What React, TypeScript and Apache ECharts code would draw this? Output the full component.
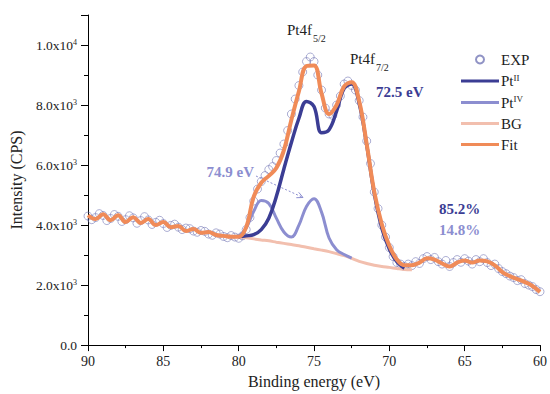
import React, { useEffect, useRef } from "react";
import * as echarts from "echarts";

// Binding energy grids (eV): start value and step (descending)
const EXP_START = 90;
const EXP_STEP = 0.25;
const FIT_START = 90;
const FIT_STEP = 0.5;
const PEAK_START = 80;
const PEAK_STEP = 0.5;

// Experimental intensities (CPS), 90 -> 60 eV every 0.25 eV
const expValues = [
  4300, 4180, 4250, 4380, 4320, 4150, 4220, 4350, 4290, 4120,
  4180, 4310, 4240, 4060, 4150, 4280, 4170, 4020, 4090, 4160,
  4050, 3920, 3990, 4030, 3930, 3850, 3900, 3880, 3800, 3760,
  3820, 3790, 3700, 3660, 3740, 3700, 3620, 3580, 3650, 3600,
  3560, 3640, 3850, 4250, 4800, 5200, 5450, 5650, 5850, 5950,
  6150, 6400, 6700, 7150, 7700, 8200, 8650, 9100, 9450, 9600,
  9450, 9000, 8500, 7900, 7700, 7650, 8000, 8300, 8700, 8800,
  8650, 8500, 8150, 7600, 6800, 6050, 5100, 4550, 4000, 3600,
  3250, 2950, 2750, 2700, 2620, 2700, 2650, 2780, 2720, 2880,
  2950, 2850, 2920, 2780, 2700, 2820, 2620, 2750, 2850, 2760,
  2880, 2800, 2700, 2850, 2780, 2880, 2750, 2650, 2700, 2550,
  2450, 2380, 2300, 2250, 2150, 2180, 2050, 2000, 1950, 1850,
  1780,
];

// Fit envelope, 90 -> 60 eV every 0.5 eV
const fitValues = [
  4330, 4200, 4360, 4160, 4330, 4100, 4260, 4070, 4200, 4000,
  4100, 3930, 3970, 3800, 3870, 3740, 3770, 3670, 3640, 3610,
  3610, 3930, 4950, 5410, 5640, 5900, 6490, 7510, 8460, 9300,
  9320, 8390, 7700, 8000, 8620, 8760, 8130, 6690, 5110, 4030,
  3310, 2850, 2660, 2660, 2750, 2890, 2850, 2720, 2620, 2750,
  2820, 2750, 2820, 2790, 2660, 2430, 2300, 2200, 2100, 1970,
  1770,
];

// Pt(II) component, 80 -> 69 eV every 0.5 eV
const ptIIValues = [
  3610, 3640, 3680, 3850, 4230, 4950, 5870, 6750, 7560, 8120,
  7950, 7080, 7180, 7800, 8550, 8700, 8050, 6660, 5050, 3900,
  3200, 2780, 2560,
];

// Pt(IV) component, 80 -> 72.5 eV every 0.5 eV
const ptIVValues = [
  3610, 3900, 4460, 4820, 4720, 4230, 3770, 3600, 4000, 4620,
  4880, 4430, 3570, 3180, 3020, 2900,
];

// Background, 80 -> 68.5 eV every 0.5 eV
const bgValues = [
  3610, 3575, 3540, 3505, 3475, 3430, 3390, 3350, 3310, 3260,
  3210, 3165, 3115, 3050, 2980, 2890, 2790, 2720, 2660, 2620,
  2590, 2555, 2520, 2510,
];

const legendNames = ["EXP", "PtII", "PtIV", "BG", "Fit"];

const SERIF = "Liberation Serif";
const C_FIT = "#f08b58";
const C_II = "#3b3d94";
const C_IV = "#8c8ed0";
const C_BG = "#f2bfae";
const C_EXP = "#7478b6";
const LINE_ICON = "path://M0 0H38V3H0Z";

// design size of the reference
const W = 550;
const H = 394;

function toPairs(start: number, step: number, values: number[]) {
  return values.map((v, i) => [Math.round((start - i * step) * 100) / 100, v]);
}

export default function App() {
  const ref = useRef<HTMLDivElement>(null);

  useEffect(() => {
    if (!ref.current) return;
    const chart = echarts.init(ref.current, undefined, { renderer: "svg" });
    const sx = chart.getWidth() / W;
    const sy = chart.getHeight() / H;
    const X = (v: number) => v * sx;
    const Y = (v: number) => v * sy;
    const F = (v: number) => v * sy;

    const txt = (x: number, y: number, text: string, size: number, fill: string, bold = false, align = "left") => ({
      type: "text",
      x: X(x),
      y: Y(y),
      style: {
        text,
        fontSize: F(size),
        fontWeight: bold ? "bold" : "normal",
        fontFamily: SERIF,
        fill,
        textAlign: align,
        textVerticalAlign: "middle",
      },
    });

    const option: any = {
      animation: false,
      backgroundColor: "#ffffff",
      textStyle: { fontFamily: SERIF },
      grid: { left: X(88), right: X(5), top: Y(15), bottom: Y(42), containLabel: false },
      legend: {
        orient: "vertical",
        left: X(456),
        top: Y(47),
        itemWidth: X(38),
        itemHeight: Y(8),
        itemGap: Y(6),
        data: legendNames.map((n) => (n === "EXP" ? { name: n } : { name: n, icon: LINE_ICON })),
        formatter: (name: string) => {
          if (name === "PtII") return "{m|Pt}{s|II}";
          if (name === "PtIV") return "{m|Pt}{s|IV}";
          return "{m|" + name + "}";
        },
        textStyle: {
          padding: [0, 0, 0, -3],
          rich: {
            m: { fontSize: F(15), fontFamily: SERIF, color: "#222", lineHeight: F(16) },
            s: { fontSize: F(9), fontFamily: SERIF, color: "#222", lineHeight: F(9), verticalAlign: "top" },
          },
        },
      },
      xAxis: {
        type: "value",
        min: 60,
        max: 90,
        interval: 5,
        inverse: true,
        name: "Binding energy (eV)",
        nameLocation: "middle",
        nameGap: Y(26),
        nameTextStyle: { fontSize: F(16), fontFamily: SERIF, color: "#222" },
        axisLine: { show: true, onZero: false, lineStyle: { color: "#000", width: 1 } },
        axisTick: { show: true, inside: false, length: Y(6), lineStyle: { color: "#000" } },
        minorTick: { show: true, splitNumber: 2, length: Y(3), lineStyle: { color: "#000" } },
        axisLabel: { fontSize: F(14), fontFamily: SERIF, color: "#222", margin: Y(9) },
        splitLine: { show: false },
      },
      yAxis: {
        type: "value",
        min: 0,
        max: 11000,
        interval: 2000,
        name: "Intensity (CPS)",
        nameLocation: "middle",
        nameGap: X(56),
        nameTextStyle: { fontSize: F(16), fontFamily: SERIF, color: "#222" },
        axisLine: { show: true, onZero: false, lineStyle: { color: "#000", width: 1 } },
        axisTick: { show: true, inside: false, length: X(7), lineStyle: { color: "#000" } },
        minorTick: { show: true, splitNumber: 2, length: X(4), lineStyle: { color: "#000" } },
        axisLabel: {
          margin: X(11),
          showMaxLabel: false,
          formatter: (v: number) => {
            if (v === 0) return "{n|0.0}";
            if (v >= 10000) return "{n|" + (v / 10000).toFixed(1) + "x10}{s|4}";
            return "{n|" + (v / 1000).toFixed(1) + "x10}{s|3}";
          },
          rich: {
            n: { fontSize: F(13.5), fontFamily: SERIF, color: "#222", lineHeight: F(14) },
            s: { fontSize: F(8), fontFamily: SERIF, color: "#222", lineHeight: F(8), verticalAlign: "top" },
          },
        },
        splitLine: { show: false },
      },
      series: [
        {
          name: "EXP",
          type: "scatter",
          symbol: "circle",
          symbolSize: F(8),
          data: toPairs(EXP_START, EXP_STEP, expValues),
          itemStyle: { color: "rgba(255,255,255,0)", borderColor: C_EXP, borderWidth: 0.75 },
          z: 2,
        },
        {
          name: "BG",
          type: "line",
          symbol: "none",
          smooth: 0.3,
          data: toPairs(PEAK_START, PEAK_STEP, bgValues),
          lineStyle: { color: C_BG, width: F(3) },
          itemStyle: { color: C_BG },
          z: 3,
        },
        {
          name: "PtIV",
          type: "line",
          symbol: "none",
          smooth: 0.4,
          data: toPairs(PEAK_START, PEAK_STEP, ptIVValues),
          lineStyle: { color: C_IV, width: F(3) },
          itemStyle: { color: C_IV },
          z: 3,
        },
        {
          name: "PtII",
          type: "line",
          symbol: "none",
          smooth: 0.4,
          data: toPairs(PEAK_START, PEAK_STEP, ptIIValues),
          lineStyle: { color: C_II, width: F(3.5) },
          itemStyle: { color: C_II },
          z: 3,
        },
        {
          name: "Fit",
          type: "line",
          symbol: "none",
          smooth: 0.4,
          data: toPairs(FIT_START, FIT_STEP, fitValues),
          lineStyle: { color: C_FIT, width: F(4) },
          itemStyle: { color: C_FIT },
          z: 4,
        },
      ],
      graphic: [
        txt(287, 30, "Pt4f", 15, "#222"),
        txt(313, 38, "5/2", 10, "#222"),
        txt(350, 59, "Pt4f", 15, "#222"),
        txt(376, 67, "7/2", 10, "#222"),
        txt(376, 92, "72.5 eV", 15, C_II, true),
        txt(254, 172, "74.9 eV", 15, C_IV, true, "right"),
        {
          type: "line",
          shape: { x1: X(256), y1: Y(176), x2: X(302), y2: Y(197) },
          style: { stroke: C_IV, lineWidth: 1, lineDash: [2, 2] },
        },
        {
          type: "polyline",
          shape: { points: [[X(298.7), Y(192.3)], [X(303), Y(197.5)], [X(296.3), Y(197.7)]] },
          style: { stroke: C_IV, lineWidth: 1, fill: null },
        },
        txt(439, 209, "85.2%", 15, C_II, true),
        txt(439, 230, "14.8%", 15, C_IV, true),
      ],
    };

    chart.setOption(option);
    return () => chart.dispose();
  }, []);

  return (
    <div
      ref={ref}
      style={{ position: "fixed", left: 0, top: 0, width: "100vw", height: "100vh", background: "#fff" }}
    />
  );
}
